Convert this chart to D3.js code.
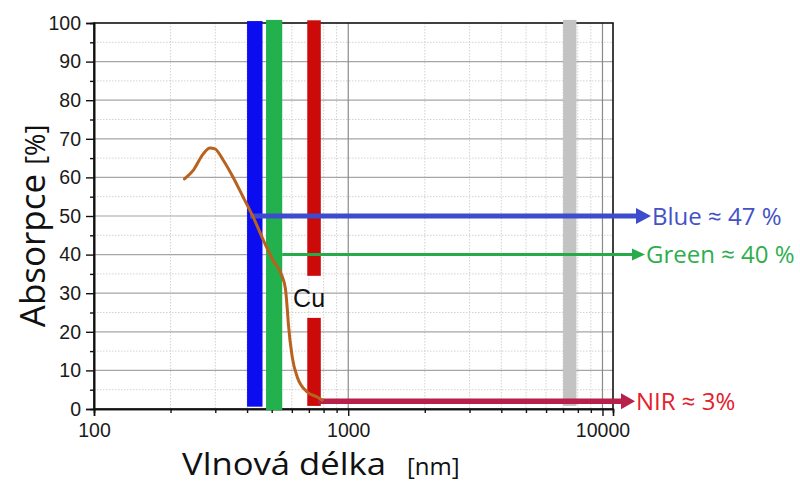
<!DOCTYPE html>
<html>
<head>
<meta charset="utf-8">
<script src="https://cdn.jsdelivr.net/npm/d3@7"></script>
<style>
  html, body { margin: 0; padding: 0; background: #fff; }
  svg { display: block; }
</style>
</head>
<body>
<svg id="chart" width="800" height="484"></svg>
<script>
// Absorption spectrum of the Cu layer (wavelength in nm, absorption in %)
const wavelengths = [227, 246, 269, 286, 299, 322, 352, 386, 423, 463, 507, 548, 566, 575, 581, 602, 630, 690, 755, 790];
const absorbance  = [59.6, 61.9, 66.1, 67.6, 67.4, 64.5, 60.1, 54.9, 49.7, 43.8, 38.4, 34.6, 31.2, 26.4, 22.3, 13.5, 8.3, 4.4, 3.1, 2.3];

// Spectral bands: [from nm, to nm] and [from %, to %]
const bandNames  = ["blue", "green", "red", "red", "gray"];
const bandRanges = [[400, 460], [475, 550], [690, 780], [690, 780], [7000, 7900]];
const bandLevels = [[0.6, 100.5], [-0.3, 100.8], [0.8, 23.6], [34.5, 100.7], [0.8, 100.8]];

// Band read-outs: arrow start (nm), arrow level (%), label
const readNames  = ["blue", "green", "nir"];
const readStart  = [411, 550, 762];
const readLevels = [50, 40, 2];
const readLabels = ["Blue \u2248 47 %", "Green \u2248 40 %", "NIR \u2248 3%"];

// Axis ticks
const xTicks = [100, 1000, 10000];
const xMinor = [200, 300, 400, 500, 600, 700, 800, 900, 2000, 3000, 4000, 5000, 6000, 7000, 8000, 9000];
const yTicks = [0, 10, 20, 30, 40, 50, 60, 70, 80, 90, 100];
const yMinor = [5, 15, 25, 35, 45, 55, 65, 75, 85, 95];

const colors = {
  blue: "#0c0cf0", green: "#22b14c", red: "#cc0a0a", gray: "#c3c3c3",
  curve: "#b8621e"
};
const readStyle = {
  blue:  { line: "#3c4ccc", text: "#4352c6", width: 5, head: 16, len: 15, tip: 38 },
  green: { line: "#27ab4a", text: "#2fae4f", width: 3, head: 12, len: 13, tip: 32 },
  nir:   { line: "#b7204a", text: "#e4202c", width: 5.5, head: 16, len: 14, tip: 22 }
};

const svg = d3.select("#chart");
const margin = { left: 94, top: 23, right: 187, bottom: 75 };
const W = 800 - margin.left - margin.right;
const H = 484 - margin.top - margin.bottom;

const x = d3.scaleLog().domain([100, 11000]).range([0, W]);
const y = d3.scaleLinear().domain([0, 100]).range([H, 0]);

const g = svg.append("g").attr("transform", `translate(${margin.left},${margin.top})`);

// grid
const grid = g.append("g");
grid.selectAll(".hmin").data(yMinor).join("line")
  .attr("x1", 0).attr("x2", W).attr("y1", d => y(d)).attr("y2", d => y(d))
  .attr("stroke", "#d2d2d2").attr("stroke-width", 1).attr("stroke-dasharray", "1.5,1.5");
grid.selectAll(".vmin").data(xMinor).join("line")
  .attr("x1", d => x(d)).attr("x2", d => x(d)).attr("y1", 0).attr("y2", H)
  .attr("stroke", "#d2d2d2").attr("stroke-width", 1).attr("stroke-dasharray", "1.5,1.5");
grid.selectAll(".hmaj").data(yTicks.slice(1, -1)).join("line")
  .attr("x1", 0).attr("x2", W).attr("y1", d => y(d)).attr("y2", d => y(d))
  .attr("stroke", "#a6a6a6").attr("stroke-width", 1.2);
grid.selectAll(".vmaj").data(xTicks.slice(1)).join("line")
  .attr("x1", d => x(d)).attr("x2", d => x(d)).attr("y1", 0).attr("y2", H)
  .attr("stroke", "#8a8a8a").attr("stroke-width", 1.2);

// frame
g.append("rect").attr("x", 0).attr("y", 0).attr("width", W).attr("height", H)
  .attr("fill", "none").attr("stroke", "#111").attr("stroke-width", 1.6);

// axes
g.append("g").call(d3.axisLeft(y).tickValues(yTicks).tickSize(8).tickPadding(5));
g.append("g").call(d3.axisLeft(y).tickValues(yMinor).tickSize(4).tickFormat(""));
g.append("g").attr("transform", `translate(0,${H})`)
  .call(d3.axisBottom(x).tickValues(xTicks).tickSize(7).tickPadding(7).tickFormat(d3.format("d")));
g.append("g").attr("transform", `translate(0,${H})`)
  .call(d3.axisBottom(x).tickValues(xMinor).tickSize(4).tickFormat(""));
g.selectAll(".domain").attr("stroke", "#111").attr("stroke-width", 1.6);
g.selectAll(".tick line").attr("stroke", "#111").attr("stroke-width", 1.4);
g.selectAll(".tick text").attr("font-family", "'Liberation Sans', Arial, sans-serif")
  .attr("font-size", 19.5).attr("fill", "#1a1a1a");

// spectral bands
g.selectAll(".band").data(bandNames).join("rect")
  .attr("x", (d, i) => x(bandRanges[i][0]))
  .attr("width", (d, i) => x(bandRanges[i][1]) - x(bandRanges[i][0]))
  .attr("y", (d, i) => y(bandLevels[i][1]))
  .attr("height", (d, i) => y(bandLevels[i][0]) - y(bandLevels[i][1]))
  .attr("fill", d => colors[d]);

// read-out arrows
readNames.forEach((name, i) => {
  const s = readStyle[name];
  const yy = y(readLevels[i]);
  const x0 = x(readStart[i]);
  const tip = W + s.tip;
  g.append("line").attr("x1", x0).attr("x2", tip - s.len + 1).attr("y1", yy).attr("y2", yy)
    .attr("stroke", s.line).attr("stroke-width", s.width);
  g.append("path")
    .attr("d", `M${tip},${yy} L${tip - s.len},${yy - s.head / 2} L${tip - s.len},${yy + s.head / 2} Z`)
    .attr("fill", s.line);
  g.append("text").attr("x", tip + 1).attr("y", yy).attr("dy", "0.36em")
    .attr("font-family", "'Open Sans', sans-serif").attr("font-size", 24)
    .attr("fill", s.text).text(readLabels[i]);
});

// absorption curve
const line = d3.line().x(d => x(d[0])).y(d => y(d[1])).curve(d3.curveMonotoneX);
g.append("path").datum(wavelengths.map((w, i) => [w, absorbance[i]]))
  .attr("d", line).attr("fill", "none").attr("stroke", colors.curve)
  .attr("stroke-width", 3).attr("stroke-linecap", "round").attr("stroke-linejoin", "round");

// material label
g.append("text").attr("x", x(607)).attr("y", y(26.4)).attr("text-anchor", "start")
  .attr("font-family", "'Liberation Sans', Arial, sans-serif").attr("font-size", 25)
  .attr("fill", "#111").text("Cu");

// axis titles
const yTitle = svg.append("text")
  .attr("transform", "translate(45,226) rotate(-90)")
  .attr("text-anchor", "middle").attr("font-family", "'Open Sans', sans-serif").attr("fill", "#111");
yTitle.append("tspan").attr("font-size", 35).text("Absorpce ");
yTitle.append("tspan").attr("font-size", 27).text("[%]");

svg.append("text").attr("transform", "translate(182,474.5) scale(1.1,1)")
  .attr("font-family", "'Open Sans', sans-serif").attr("font-size", 31.5).attr("fill", "#111")
  .text("Vlnová délka");
svg.append("text").attr("x", 407).attr("y", 474.5)
  .attr("font-family", "'Open Sans', sans-serif").attr("font-size", 24).attr("fill", "#111")
  .text("[nm]");
</script>
</body>
</html>
